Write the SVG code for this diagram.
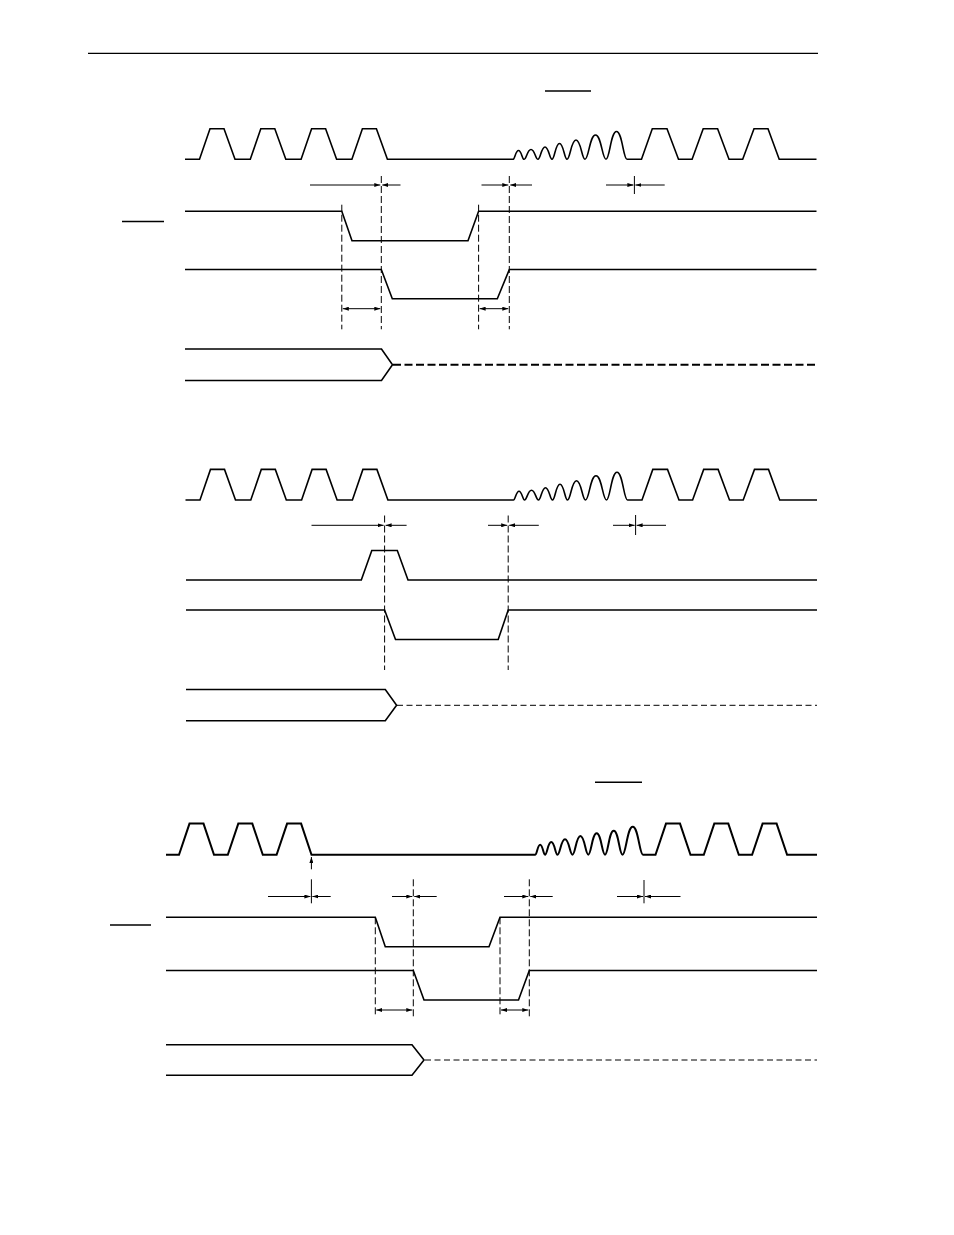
<svg xmlns="http://www.w3.org/2000/svg" width="954" height="1235" viewBox="0 0 954 1235">
<style>
.sig{fill:none;stroke:#000;stroke-width:1.6;stroke-linejoin:miter}
.clk3{fill:none;stroke:#000;stroke-width:2;stroke-linejoin:miter}
.ovl{stroke:#000;stroke-width:1.5}
.guide{stroke:#000;stroke-width:1;stroke-dasharray:7 3;fill:none}
.dim{stroke:#000;stroke-width:1;fill:none}
.dimA{stroke:#000;stroke-width:1;fill:none;marker-end:url(#ah)}
.dimB{stroke:#000;stroke-width:1;fill:none;marker-end:url(#ah);marker-start:url(#ahs)}
.bus1{fill:none;stroke:#000;stroke-width:2;stroke-dasharray:8 3.5}
.bus2{fill:none;stroke:#000;stroke-width:1;stroke-dasharray:6 3.5}
</style>
<defs>
<marker id="ah" viewBox="0 0 6 4" refX="6" refY="2" markerWidth="6" markerHeight="4" orient="auto" markerUnits="userSpaceOnUse"><path d="M0,0 L6,2 L0,4 z" fill="#000"/></marker>
<marker id="ahs" viewBox="0 0 6 4" refX="6" refY="2" markerWidth="6" markerHeight="4" orient="auto-start-reverse" markerUnits="userSpaceOnUse"><path d="M0,0 L6,2 L0,4 z" fill="#000"/></marker>
<path id="clkA" class="sig" d="M185,159.3 L199.5,159.3 L210,128.7 L224,128.7 L235,159.3 L250.3,159.3 L260.8,128.7 L274.8,128.7 L285.8,159.3 L301.1,159.3 L311.6,128.7 L325.6,128.7 L336.6,159.3 L351.9,159.3 L362.4,128.7 L376.4,128.7 L387.4,159.3 L513,159.3 C514.9,159.3 515.5,150.5 518.5,150.5 S522.1,159.3 524,159.3 C526.5,159.3 527.2,149.5 531,149.5 S535.5,159.3 538,159.3 C540.5,159.3 541.2,147 545,147 S549.5,159.3 552,159.3 C554.6,159.3 555.4,143.5 559.5,143.5 S564.4,159.3 567,159.3 C570.2,159.3 571,140 576,140 S581.8,159.3 585,159.3 C588.7,159.3 589.7,135 595.5,135 S602.3,159.3 606,159.3 C609.7,159.3 610.7,131.5 616.5,131.5 S623.3,159.3 627,159.3 L641.5,159.3 L652.3,128.7 L667,128.7 L678.5,159.3 L692.1,159.3 L703.2,128.7 L717.6,128.7 L729,159.3 L742.7,159.3 L754,128.7 L768,128.7 L779.2,159.3 L816.5,159.3"/>
</defs>

<line id="header-rule" x1="88" y1="53.3" x2="818" y2="53.3" stroke="#000" stroke-width="1.2"/>

<g id="diagram1">
  <line class="ovl" x1="545" y1="91" x2="591" y2="91"/>
  <line class="ovl" x1="122" y1="221.5" x2="164" y2="221.5"/>
  <g id="d1-clock"><use href="#clkA"/></g>
  <g id="d1-sig2"><path class="sig" d="M185,211.3 L341.8,211.3 L352,240.7 L468,240.7 L478.6,211.3 L816.5,211.3"/></g>
  <g id="d1-sig3"><path class="sig" d="M185,269.5 L381.3,269.5 L392.3,298.8 L497.3,298.8 L509.3,269.5 L816.5,269.5"/></g>
  <g id="d1-bus">
    <path class="sig" d="M185,349 L381.5,349 L392.5,364.8 L381.5,380.5 L185,380.5"/>
    <path class="bus1" d="M393,364.8 L816,364.8"/>
  </g>
</g>

<g id="diagram2">
  <g id="d2-clock"><use href="#clkA" transform="translate(0.5,340.7)"/></g>
  <g id="d2-sig2"><path class="sig" d="M186,580 L361.3,580 L371.8,550.5 L397.3,550.5 L408,580 L817,580"/></g>
  <g id="d2-sig3"><path class="sig" d="M186,610 L384.6,610 L395.5,639.5 L498.2,639.5 L508.2,610 L817,610"/></g>
  <g id="d2-bus">
    <path class="sig" d="M186,689.5 L385.3,689.5 L396.6,705.3 L385.3,720.7 L186,720.7"/>
    <path class="bus2" d="M397,705.3 L817,705.3"/>
  </g>
</g>

<g id="diagram3">
  <line class="ovl" x1="595" y1="782.3" x2="642" y2="782.3"/>
  <line class="ovl" x1="110" y1="925" x2="151" y2="925"/>
  <g id="d3-clock"><path class="clk3" d="M166,854.7 L179,854.7 L189.5,823.6 L203.5,823.6 L214,854.7 L227.8,854.7 L238.3,823.6 L252.3,823.6 L262.8,854.7 L276.6,854.7 L287.1,823.6 L301.1,823.6 L311.5,854.7 L535.3,854.7 C537,854.7 537.5,844.7 540.15,844.7 S543.3,854.7 545,854.7 C547.2,854.7 547.8,842 551.25,842 S555.3,854.7 557.5,854.7 C560.1,854.7 560.9,839.3 565,839.3 S569.9,854.7 572.5,854.7 C575.3,854.7 576.1,836 580.4,836 S585.5,854.7 588.3,854.7 C591.2,854.7 592.1,833.3 596.65,833.3 S602.1,854.7 605,854.7 C608.1,854.7 608.9,830.7 613.75,830.7 S619.4,854.7 622.5,854.7 C626.1,854.7 627.1,826.7 632.75,826.7 S639.4,854.7 643,854.7 L655.5,854.7 L666,823.6 L680,823.6 L690.5,854.7 L703.8,854.7 L714.3,823.6 L728.3,823.6 L738.8,854.7 L752.1,854.7 L762.6,823.6 L776.6,823.6 L787.1,854.7 L817,854.7"/></g>
  <g id="d3-sig2"><path class="sig" d="M166,917.3 L375.3,917.3 L385.3,946.8 L489,946.8 L500,917.3 L817,917.3"/></g>
  <g id="d3-sig3"><path class="sig" d="M166,970.5 L413.3,970.5 L424,1000 L518.5,1000 L529.3,970.5 L817,970.5"/></g>
  <g id="d3-bus">
    <path class="sig" d="M166,1044.7 L412,1044.7 L424,1060 L412,1075.3 L166,1075.3"/>
    <path class="bus2" d="M425,1060 L817,1060"/>
  </g>
</g>

<g id="connectors">
  <line class="guide" x1="341.8" y1="204.7" x2="341.8" y2="329.3"/>
  <line class="guide" x1="381.3" y1="176" x2="381.3" y2="329.3"/>
  <line class="guide" x1="478.6" y1="204.7" x2="478.6" y2="329.3"/>
  <line class="guide" x1="509.3" y1="176" x2="509.3" y2="329.3"/>
  <line class="dimA" x1="310" y1="185" x2="380.3" y2="185"/>
  <line class="dimA" x1="400.5" y1="185" x2="382.3" y2="185"/>
  <line class="dimA" x1="481.5" y1="185" x2="508.3" y2="185"/>
  <line class="dimA" x1="532" y1="185" x2="510.3" y2="185"/>
  <line class="dimA" x1="606" y1="185" x2="633.4" y2="185"/>
  <line class="dimA" x1="664.7" y1="185" x2="635.4" y2="185"/>
  <line class="dim" x1="634.4" y1="176" x2="634.4" y2="194"/>
  <line class="dimB" x1="342.8" y1="308.7" x2="380.3" y2="308.7"/>
  <line class="dimB" x1="479.6" y1="308.7" x2="508.3" y2="308.7"/>
  <line class="guide" x1="384.6" y1="515.5" x2="384.6" y2="670"/>
  <line class="guide" x1="508.2" y1="515.5" x2="508.2" y2="670"/>
  <line class="dimA" x1="311.5" y1="525.3" x2="383.6" y2="525.3"/>
  <line class="dimA" x1="406.6" y1="525.3" x2="385.6" y2="525.3"/>
  <line class="dimA" x1="488" y1="525.3" x2="507.2" y2="525.3"/>
  <line class="dimA" x1="538.8" y1="525.3" x2="509.2" y2="525.3"/>
  <line class="dimA" x1="613" y1="525.3" x2="634.6" y2="525.3"/>
  <line class="dimA" x1="666" y1="525.3" x2="636.6" y2="525.3"/>
  <line class="dim" x1="635.6" y1="515" x2="635.6" y2="535"/>
  <line class="guide" x1="375.3" y1="917.3" x2="375.3" y2="1017.3"/>
  <line class="guide" x1="413.3" y1="879.3" x2="413.3" y2="1017.3"/>
  <line class="guide" x1="500" y1="917.3" x2="500" y2="1017.3"/>
  <line class="guide" x1="529.3" y1="879.3" x2="529.3" y2="1017.3"/>
  <line class="dimA" x1="311.4" y1="869.3" x2="311.4" y2="857"/>
  <line class="dimA" x1="268" y1="896.5" x2="310.4" y2="896.5"/>
  <line class="dimA" x1="330.7" y1="896.5" x2="312.4" y2="896.5"/>
  <line class="dim" x1="311.4" y1="879.3" x2="311.4" y2="903.3"/>
  <line class="dimA" x1="392" y1="896.5" x2="412.3" y2="896.5"/>
  <line class="dimA" x1="436.7" y1="896.5" x2="414.3" y2="896.5"/>
  <line class="dimA" x1="504" y1="896.5" x2="528.3" y2="896.5"/>
  <line class="dimA" x1="552.7" y1="896.5" x2="530.3" y2="896.5"/>
  <line class="dimA" x1="617" y1="896.5" x2="643" y2="896.5"/>
  <line class="dimA" x1="680.5" y1="896.5" x2="645" y2="896.5"/>
  <line class="dim" x1="644" y1="880" x2="644" y2="903.3"/>
  <line class="dimB" x1="376.3" y1="1010" x2="412.3" y2="1010"/>
  <line class="dimB" x1="501" y1="1010" x2="528.3" y2="1010"/>
</g>
</svg>
